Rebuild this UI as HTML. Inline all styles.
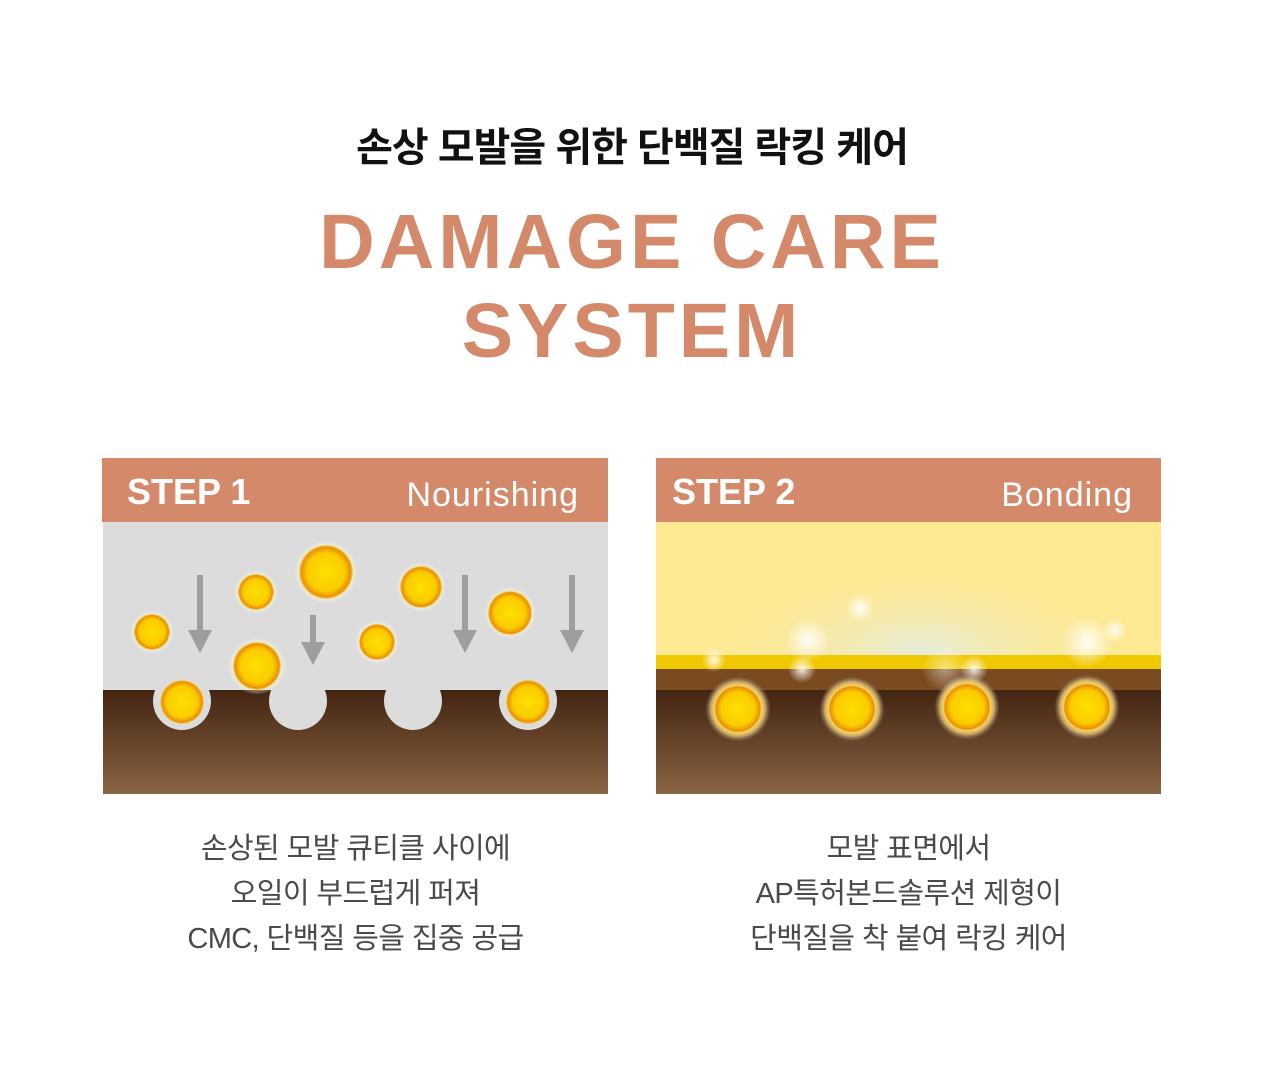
<!DOCTYPE html>
<html><head><meta charset="utf-8"><style>
body{margin:0;width:1264px;height:1087px;background:#fff;font-family:"Liberation Sans","Noto Sans CJK KR",sans-serif;position:relative;overflow:hidden}
.t{position:absolute;left:0;width:1264px;text-align:center}
.cap{position:absolute;width:505px;text-align:center;font-size:29px;line-height:45px;color:#4a4a4a;letter-spacing:-0.6px}
</style></head><body>
<div class="t" style="top:115px;font-size:40px;font-weight:bold;color:#111;letter-spacing:-1px">손상 모발을 위한 단백질 락킹 케어</div>
<div class="t" style="top:198px;font-size:77px;font-weight:bold;color:#d4896a;line-height:89px;letter-spacing:4px">DAMAGE CARE<br>SYSTEM</div>
<svg width="1264" height="1087" style="position:absolute;left:0;top:0" xmlns="http://www.w3.org/2000/svg">
<defs>
<radialGradient id="ball"><stop offset="0" stop-color="#ffe000"/><stop offset="0.7" stop-color="#fbcc00"/><stop offset="0.92" stop-color="#e8900a"/><stop offset="1" stop-color="#f7e070"/></radialGradient>
<radialGradient id="glow"><stop offset="0.7" stop-color="#fff6b0" stop-opacity="0.8"/><stop offset="1" stop-color="#fff" stop-opacity="0"/></radialGradient>
<linearGradient id="brown" x1="0" y1="0" x2="0" y2="1"><stop offset="0" stop-color="#432412"/><stop offset="1" stop-color="#8a6543"/></linearGradient>
<radialGradient id="hal2"><stop offset="0.75" stop-color="#f2d060"/><stop offset="0.85" stop-color="#c8a86a"/><stop offset="1" stop-color="#7a6048" stop-opacity="0.3"/></radialGradient>
<radialGradient id="shine"><stop offset="0" stop-color="#fff" stop-opacity="0.9"/><stop offset="1" stop-color="#fff" stop-opacity="0"/></radialGradient>
<radialGradient id="mist"><stop offset="0" stop-color="#e6ecdf" stop-opacity="0.95"/><stop offset="1" stop-color="#fde992" stop-opacity="0"/></radialGradient>
</defs>
<rect x="102" y="458" width="506" height="64" fill="#d4896a"/>
<text x="127" y="504" font-size="36" font-weight="bold" fill="#fff" font-family="Liberation Sans">STEP 1</text>
<text x="579" y="506" font-size="34" fill="#fff" text-anchor="end" font-family="Liberation Sans" letter-spacing="1">Nourishing</text>
<rect x="103" y="522" width="505" height="168" fill="#dcdcdc"/>
<rect x="103" y="690" width="505" height="104" fill="url(#brown)"/>
<g fill="#dcdcdc"><circle cx="182" cy="701" r="29"/><circle cx="298" cy="701" r="29"/><circle cx="413" cy="701" r="29"/><circle cx="528" cy="701" r="29"/></g>
<g fill="#9e9e9e">
<rect x="197" y="575" width="6" height="62"/><polygon points="188,630 212,630 200,653"/>
<rect x="310" y="615" width="6" height="34"/><polygon points="301,642 325,642 313,665"/>
<rect x="462" y="575" width="6" height="62"/><polygon points="453,630 477,630 465,653"/>
<rect x="569" y="575" width="6" height="62"/><polygon points="560,630 584,630 572,653"/>
</g>
<g>
<circle cx="152" cy="632" r="22" fill="url(#glow)"/><circle cx="152" cy="632" r="18" fill="url(#ball)"/>
<circle cx="256" cy="592" r="22" fill="url(#glow)"/><circle cx="256" cy="592" r="18" fill="url(#ball)"/>
<circle cx="326" cy="572" r="32" fill="url(#glow)"/><circle cx="326" cy="572" r="27" fill="url(#ball)"/>
<circle cx="421" cy="587" r="25" fill="url(#glow)"/><circle cx="421" cy="587" r="21" fill="url(#ball)"/>
<circle cx="510" cy="613" r="26" fill="url(#glow)"/><circle cx="510" cy="613" r="22" fill="url(#ball)"/>
<circle cx="377" cy="642" r="22" fill="url(#glow)"/><circle cx="377" cy="642" r="18" fill="url(#ball)"/>
<circle cx="257" cy="666" r="29" fill="url(#glow)"/><circle cx="257" cy="666" r="24" fill="url(#ball)"/>
<circle cx="182" cy="702" r="22" fill="url(#ball)"/><circle cx="528" cy="702" r="22" fill="url(#ball)"/>
</g>
<rect x="656" y="458" width="505" height="64" fill="#d4896a"/>
<text x="672" y="504" font-size="36" font-weight="bold" fill="#fff" font-family="Liberation Sans">STEP 2</text>
<text x="1133" y="506" font-size="34" fill="#fff" text-anchor="end" font-family="Liberation Sans" letter-spacing="1">Bonding</text>
<rect x="656" y="522" width="505" height="133" fill="#fde992"/>
<ellipse cx="920" cy="650" rx="230" ry="90" fill="url(#mist)"/>
<rect x="656" y="655" width="505" height="14" fill="#f0c800"/>
<rect x="656" y="669" width="505" height="21" fill="#7a4a20"/>
<rect x="656" y="690" width="505" height="104" fill="url(#brown)"/>
<g>
<circle cx="738" cy="709" r="32" fill="url(#hal2)"/><circle cx="738" cy="709" r="24" fill="url(#ball)"/>
<circle cx="852" cy="709" r="32" fill="url(#hal2)"/><circle cx="852" cy="709" r="24" fill="url(#ball)"/>
<circle cx="967" cy="707" r="32" fill="url(#hal2)"/><circle cx="967" cy="707" r="24" fill="url(#ball)"/>
<circle cx="1087" cy="707" r="32" fill="url(#hal2)"/><circle cx="1087" cy="707" r="24" fill="url(#ball)"/>
</g>
<g fill="url(#shine)">
<circle cx="714" cy="660" r="12"/><circle cx="802" cy="669" r="14"/><circle cx="860" cy="608" r="14"/><circle cx="808" cy="640" r="22"/>
<circle cx="974" cy="669" r="14"/><circle cx="1087" cy="642" r="26"/><circle cx="1115" cy="630" r="12"/><circle cx="945" cy="668" r="24" opacity="0.5"/>
</g>
</svg>
<div class="cap" style="left:103px;top:827px">손상된 모발 큐티클 사이에<br>오일이 부드럽게 퍼져<br>CMC, 단백질 등을 집중 공급</div>
<div class="cap" style="left:656px;top:827px">모발 표면에서<br>AP특허본드솔루션 제형이<br>단백질을 착 붙여 락킹 케어</div>
</body></html>
